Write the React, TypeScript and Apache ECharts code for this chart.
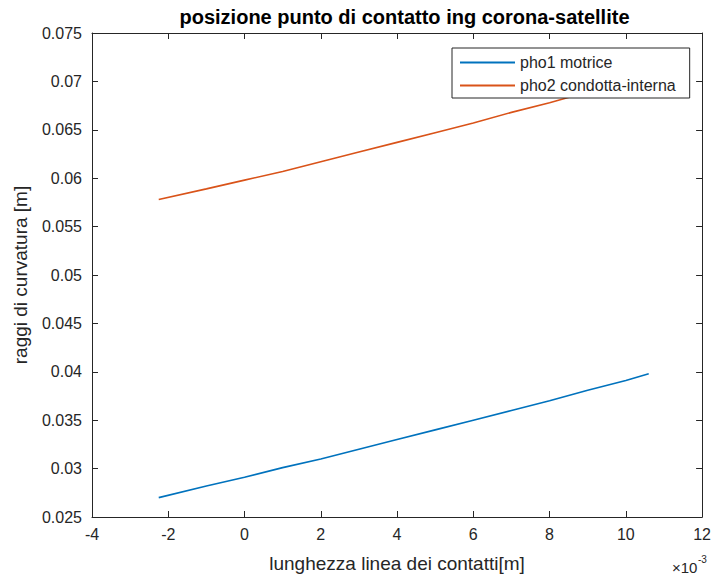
import React, { useEffect, useRef } from "react";
import * as echarts from "echarts";

const titleText = "posizione punto di contatto ing corona-satellite";
const xName = "lunghezza linea dei contatti[m]";
const yName = "raggi di curvatura [m]";
const seriesNames = ["pho1 motrice", "pho2 condotta-interna"];

// x in units of 1e-3 m
const xValues = [-2.25, -1, 0, 1, 2, 3, 4, 5, 6, 7, 8, 9, 10, 10.6];
const pho1 = [0.027, 0.0282, 0.0291, 0.0301, 0.031, 0.032, 0.033, 0.034, 0.035, 0.036, 0.037, 0.0381, 0.0391, 0.0398];
const pho2 = [0.0578, 0.0589, 0.0598, 0.0607, 0.0617, 0.0627, 0.0637, 0.0647, 0.0657, 0.0668, 0.0678, 0.0689, 0.07, 0.0706];

const xMin = -4, xMax = 12, xStep = 2;
const yMin = 0.025, yMax = 0.075, yStep = 0.005;

const FONT = "'Liberation Sans', Arial, Helvetica, sans-serif";
const AX = "#262626";

export default function App() {
  const ref = useRef<HTMLDivElement>(null);
  useEffect(() => {
    if (!ref.current) return;
    const chart = echarts.init(ref.current, undefined, { renderer: "svg" });
    const axisCommon = {
      axisLine: { show: true, onZero: false, lineStyle: { color: AX, width: 1 } },
      axisTick: { show: true, inside: true, length: 6, lineStyle: { color: AX } },
      splitLine: { show: false },
    };
    chart.setOption({
      animation: false,
      backgroundColor: "#fff",
      textStyle: { fontFamily: FONT },
      title: {
        text: titleText,
        left: 399.5,
        textAlign: "center",
        top: 2,
        textStyle: { fontFamily: FONT, fontSize: 20, fontWeight: "bold", color: "#000" },
      },
      legend: {
        orient: "vertical",
        left: 452,
        top: 48,
        padding: [6, 14, 4, 8],
        itemGap: 6,
        itemWidth: 55,
        itemHeight: 2,
        icon: "rect",
        backgroundColor: "#fff",
        borderColor: AX,
        borderWidth: 1,
        textStyle: { fontFamily: FONT, fontSize: 16, lineHeight: 17, color: AX },
        data: seriesNames,
      },
      grid: { left: 92, right: 7, top: 33, bottom: 62, containLabel: false },
      xAxis: [
        {
          type: "value",
          min: xMin,
          max: xMax,
          interval: xStep,
          position: "bottom",
          name: xName,
          nameLocation: "middle",
          nameGap: 37,
          nameTextStyle: { fontFamily: FONT, fontSize: 19, color: AX },
          axisLabel: { color: AX, fontSize: 16, fontFamily: FONT, margin: 9 },
          ...axisCommon,
        },
        {
          type: "value",
          min: xMin,
          max: xMax,
          interval: xStep,
          position: "top",
          axisLabel: { show: false },
          ...axisCommon,
        },
      ],
      yAxis: [
        {
          type: "value",
          min: yMin,
          max: yMax,
          interval: yStep,
          position: "left",
          name: yName,
          nameLocation: "middle",
          nameGap: 62,
          nameTextStyle: { fontFamily: FONT, fontSize: 19, color: AX },
          axisLabel: {
            color: AX,
            fontSize: 16,
            fontFamily: FONT,
            margin: 10,
            formatter: (v: number) => String(parseFloat(v.toFixed(4))),
          },
          ...axisCommon,
        },
        {
          type: "value",
          min: yMin,
          max: yMax,
          interval: yStep,
          position: "right",
          axisLabel: { show: false },
          ...axisCommon,
        },
      ],
      graphic: [
        {
          type: "text",
          x: 672,
          y: 560,
          z: 100,
          style: {
            text: "×10",
            fontFamily: FONT,
            fontSize: 15,
            fill: AX,
          },
        },
        {
          type: "text",
          x: 698,
          y: 554,
          z: 100,
          style: {
            text: "-3",
            fontFamily: FONT,
            fontSize: 10,
            fill: AX,
          },
        },
      ],
      series: [
        {
          name: seriesNames[0],
          type: "line",
          symbol: "none",
          smooth: false,
          lineStyle: { color: "#0072BD", width: 1.6 },
          itemStyle: { color: "#0072BD" },
          data: xValues.map((x, i) => [x, pho1[i]]),
        },
        {
          name: seriesNames[1],
          type: "line",
          symbol: "none",
          smooth: false,
          lineStyle: { color: "#D95319", width: 1.6 },
          itemStyle: { color: "#D95319" },
          data: xValues.map((x, i) => [x, pho2[i]]),
        },
      ],
    });
    return () => chart.dispose();
  }, []);
  return (
    <div
      ref={ref}
      style={{ position: "absolute", left: 0, top: 0, width: 714, height: 579 }}
    />
  );
}
